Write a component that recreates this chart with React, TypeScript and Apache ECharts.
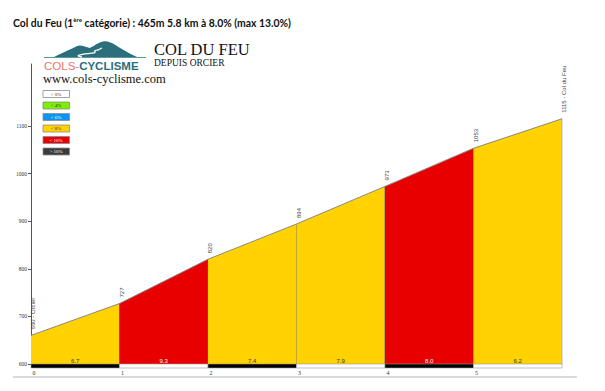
import React, { useEffect, useRef } from "react";
import * as echarts from "echarts";

// ---- data ----
const kmMarks = [0, 1, 2, 3, 4, 5, 6];
const elevations = [660, 727, 820, 894, 973, 1053, 1115];
const grades = [6.7, 9.3, 7.4, 7.9, 8.0, 6.2];
const pointLabels = ["660 - Orcier", "727", "820", "894", "973", "1053", "1115 - Col du Feu"];
const kmLabels = ["0", "1", "2", "3", "4", "5"];
const yTicks = [600, 700, 800, 900, 1000, 1100];
const legendLabels = ["< 0%", "< 4%", "< 6%", "< 8%", "< 10%", "> 10%"];
const legendThresholds = [0, 4, 6, 8, 10, Infinity];
const legendColors = ["#ffffff", "#7cf000", "#0a96f0", "#ffd200", "#e80000", "#3a3a3a"];
const legendTextColors = ["#333", "#333", "#fff", "#333", "#fff", "#fff"];

const titleMain = "Col du Feu (1";
const titleSup = "ère";
const titleRest = " catégorie) : 465m 5.8 km à 8.0% (max 13.0%)";

const Y_MIN = 600;
const Y_MAX = 1230;

function gradeIndex(g: number) {
  for (let i = 0; i < legendThresholds.length; i++) if (g < legendThresholds[i]) return i;
  return legendThresholds.length - 1;
}

const segData = grades.map((g, i) => [kmMarks[i], kmMarks[i + 1], elevations[i], elevations[i + 1], g]);
const pointData = elevations.map((e, i) => [kmMarks[i], e, i]);

const mountainD =
  "M54 57 C60 54 66 51 71 49 C75 47.2 77.5 45.8 80 45.6 C83 45.6 86 47.6 90 48 C94 46 99 42 104 41.3 C108 41 111 42.5 115 44.8 C121 48.5 128 53 137 57 Z";
const roadD = "M82 57 C72 55.5 84 54 92 53.2 C99 52.4 91 51.2 97 50.2 C100 49.6 99 48.8 102 48.2";

export default function App() {
  const ref = useRef<HTMLDivElement>(null);
  useEffect(() => {
    if (!ref.current) return;
    try {
      echarts.graphic.registerShape("mountain", echarts.graphic.extendPath(mountainD, {}));
      echarts.graphic.registerShape("road", echarts.graphic.extendPath(roadD, {}));
    } catch (e) {}
    const chart = echarts.init(ref.current, null, { renderer: "svg" });

    const legendEls: any[] = [];
    legendLabels.forEach((l, i) => {
      legendEls.push({
        type: "rect",
        shape: { x: 43, y: 90.5 + i * 11.5, width: 26.5, height: 7 },
        style: { fill: legendColors[i], stroke: "#8a8a8a", lineWidth: 0.8 },
      });
      legendEls.push({
        type: "text",
        x: 56,
        y: 94.2 + i * 11.5,
        style: {
          text: l,
          fontSize: 5,
          fontFamily: "Liberation Serif",
          fill: legendTextColors[i],
          align: "center",
          verticalAlign: "middle",
        },
      });
    });

    const option: any = {
      animation: false,
      grid: { left: 31, right: 43, top: 64, bottom: 27 },
      xAxis: {
        type: "value",
        min: 0,
        max: 6,
        interval: 1,
        axisLine: { show: false },
        axisTick: { show: false },
        splitLine: { show: false },
        axisLabel: {
          margin: 6,
          fontSize: 6,
          fontFamily: "Liberation Serif",
          color: "#333",
          padding: [0, 0, 0, 6],
          formatter: (v: number) => (kmLabels[v] !== undefined && Number.isInteger(v) ? kmLabels[v] : ""),
        },
      },
      yAxis: {
        type: "value",
        min: Y_MIN,
        max: Y_MAX,
        axisLine: { show: true, lineStyle: { color: "#555", width: 1 } },
        axisTick: { show: true, length: 3, customValues: yTicks, lineStyle: { color: "#555" } },
        splitLine: { show: false },
        axisLabel: {
          customValues: yTicks,
          margin: 4,
          fontSize: 5.5,
          fontFamily: "Liberation Serif",
          color: "#333",
          formatter: (v: number) => String(v),
        },
      },
      series: [
        {
          type: "custom",
          data: segData,
          renderItem: (params: any, api: any) => {
            const x0 = api.value(0), x1 = api.value(1), e0 = api.value(2), e1 = api.value(3), g = api.value(4);
            const p0 = api.coord([x0, e0]);
            const p1 = api.coord([x1, e1]);
            const b0 = api.coord([x0, Y_MIN]);
            const b1 = api.coord([x1, Y_MIN]);
            const gi = gradeIndex(g);
            const color = legendColors[gi];
            const idx = params.dataIndex;
            return {
              type: "group",
              children: [
                {
                  type: "polygon",
                  shape: { points: [b0, p0, p1, b1] },
                  style: { fill: color, stroke: "none" },
                },
                {
                  type: "line",
                  shape: { x1: p0[0], y1: p0[1], x2: p1[0], y2: p1[1] },
                  style: { stroke: "#888", lineWidth: 1 },
                },
                {
                  type: "line",
                  shape: { x1: p1[0], y1: p1[1], x2: b1[0], y2: b1[1] },
                  style: { stroke: idx === grades.length - 1 ? "#aaa" : "#666", lineWidth: 0.8 },
                },
                {
                  type: "rect",
                  shape: { x: b0[0], y: b0[1], width: b1[0] - b0[0], height: 4 },
                  style: { fill: idx % 2 === 0 ? "#000" : "#fff", stroke: "#999", lineWidth: 0.6 },
                },
                {
                  type: "text",
                  x: (b0[0] + b1[0]) / 2,
                  y: b0[1] - 3.5,
                  style: {
                    text: g.toFixed(1),
                    fontSize: 6,
                    fontFamily: "Liberation Sans",
                    fill: gi >= 4 ? "#fff" : "#333",
                    align: "center",
                    verticalAlign: "middle",
                  },
                },
              ],
            };
          },
        },
        {
          type: "custom",
          data: pointData,
          renderItem: (params: any, api: any) => {
            const p = api.coord([api.value(0), api.value(1)]);
            const i = api.value(2);
            return {
              type: "text",
              x: p[0] + 2,
              y: p[1] - 6,
              rotation: Math.PI / 2,
              style: {
                text: pointLabels[i],
                fontSize: 6,
                fontFamily: "Liberation Sans",
                fill: "#444",
                align: "left",
                verticalAlign: "middle",
              },
            };
          },
        },
      ],
      graphic: [
        {
          type: "text",
          left: 13,
          top: 16,
          style: {
            text: "{a|" + titleMain + "}{s|" + titleSup + "}{a|" + titleRest + "}",
            rich: {
              a: { fontSize: 10.4, fontWeight: "bold", fontFamily: "Lato", fill: "#111", lineHeight: 14 },
              s: { fontSize: 6, fontWeight: "bold", fontFamily: "Lato", fill: "#111", lineHeight: 14, verticalAlign: "top" },
            },
          },
        },
        {
          type: "line",
          shape: { x1: 44, y1: 57.5, x2: 146, y2: 57.5 },
          style: { stroke: "#5a98a0", lineWidth: 1 },
        },
        { type: "mountain", x: 0, y: 0, style: { fill: "#2b6f7c" } },
        { type: "road", x: 0, y: 0, style: { fill: null, stroke: "#fff", lineWidth: 1.3 } },
        {
          type: "text",
          x: 44,
          y: 66,
          style: {
            text: "{c|COLS-}{d|CYCLISME}",
            verticalAlign: "middle",
            rich: {
              c: { fontSize: 11.5, fontFamily: "Liberation Sans", fill: "#e8766c" },
              d: { fontSize: 11.5, fontWeight: "bold", fontFamily: "Liberation Sans", fill: "#2b6f7c" },
            },
          },
        },
        {
          type: "text",
          x: 154,
          y: 49,
          style: { text: "COL DU FEU", fontSize: 16.5, fontFamily: "Liberation Serif", fill: "#111", verticalAlign: "middle" },
        },
        {
          type: "text",
          x: 154,
          y: 62.5,
          style: { text: "DEPUIS ORCIER", fontSize: 9.5, fontFamily: "Liberation Serif", fill: "#111", verticalAlign: "middle" },
        },
        {
          type: "text",
          x: 43,
          y: 79,
          style: { text: "www.cols-cyclisme.com", fontSize: 12.5, fontFamily: "Liberation Serif", fill: "#111", verticalAlign: "middle" },
        },
        ...legendEls,
        {
          type: "line",
          shape: { x1: 13, y1: 377, x2: 577, y2: 377 },
          style: { stroke: "#b5b5b5", lineWidth: 1 },
        },
      ],
    };
    chart.setOption(option);
    return () => chart.dispose();
  }, []);
  return <div ref={ref} style={{ width: 605, height: 391, position: "absolute", left: 0, top: 0 }} />;
}
